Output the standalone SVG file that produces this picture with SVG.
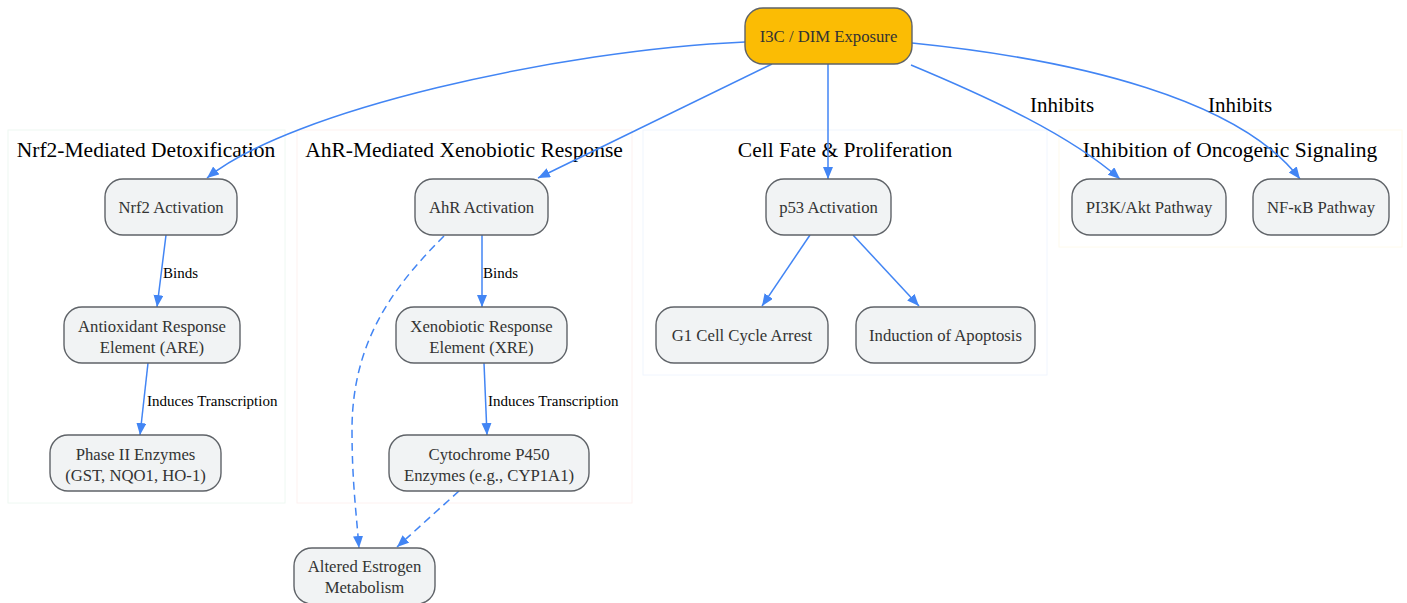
<svg xmlns="http://www.w3.org/2000/svg" width="1407" height="603" viewBox="0 0 1407 603">
<style>
.cl{fill:#ffffff;stroke-width:1}
.ct{font-family:"Liberation Serif","Times New Roman",serif;font-size:21.5px;fill:#000;text-anchor:middle}
.nd{fill:#f1f3f4;stroke:#5f6368;stroke-width:1.4}
.nt{font-family:"Liberation Serif","Times New Roman",serif;font-size:16.7px;fill:#333;text-anchor:middle}
.e{fill:none;stroke:#4285f4;stroke-width:1.5}
.d{stroke-dasharray:8,5}
.el{font-family:"Liberation Serif","Times New Roman",serif;font-size:15px;fill:#000}
.eb{font-family:"Liberation Serif","Times New Roman",serif;font-size:21px;fill:#000;text-anchor:middle}
</style>
<defs>
<marker id="ar" markerUnits="userSpaceOnUse" markerWidth="13" markerHeight="11" refX="12" refY="5" orient="auto">
<path d="M0,0 L12,5 L0,10 z" fill="#4285f4"/>
</marker>
</defs>
<rect width="1407" height="603" fill="#ffffff"/>

<g id="cluster-nrf2">
<rect class="cl" x="8" y="130" width="277" height="373" stroke="#eef8f2"/>
<text class="ct" x="146" y="157">Nrf2-Mediated Detoxification</text>
</g>
<g id="cluster-ahr">
<rect class="cl" x="297" y="130" width="335" height="373" stroke="#fdf1f0"/>
<text class="ct" x="464" y="157">AhR-Mediated Xenobiotic Response</text>
</g>
<g id="cluster-fate">
<rect class="cl" x="643" y="130" width="404" height="245" stroke="#f0f5fe"/>
<text class="ct" x="845" y="157">Cell Fate &amp; Proliferation</text>
</g>
<g id="cluster-inhib">
<rect class="cl" x="1059" y="130" width="343" height="117" stroke="#fefaec"/>
<text class="ct" x="1230" y="157">Inhibition of Oncogenic Signaling</text>
</g>

<g id="connectors">
<path class="e" marker-end="url(#ar)" d="M745,42 C560,50 290,110 207,178"/>
<path class="e" marker-end="url(#ar)" d="M772,64 L538,178"/>
<path class="e" marker-end="url(#ar)" d="M828,64 L828,179"/>
<path class="e" marker-end="url(#ar)" d="M911,65 C990,98 1070,135 1120,179"/>
<path class="e" marker-end="url(#ar)" d="M912,43 C1080,60 1240,100 1300,179"/>
<path class="e" marker-end="url(#ar)" d="M166,235 L157,307"/>
<path class="e" marker-end="url(#ar)" d="M148,363 L140,435"/>
<path class="e" marker-end="url(#ar)" d="M482,235 L482,307"/>
<path class="e" marker-end="url(#ar)" d="M484,363 L487,435"/>
<path class="e d" marker-end="url(#ar)" d="M444,236 C395,285 352,340 352,430 C352,480 356,510 359,548"/>
<path class="e d" marker-end="url(#ar)" d="M459,491 L397,547"/>
<path class="e" marker-end="url(#ar)" d="M810,235 L762,306"/>
<path class="e" marker-end="url(#ar)" d="M853,235 L919,306"/>
<text class="el" x="163" y="278">Binds</text>
<text class="el" x="147" y="406">Induces Transcription</text>
<text class="el" x="483" y="278">Binds</text>
<text class="el" x="488" y="406">Induces Transcription</text>
<text class="eb" x="1062" y="112">Inhibits</text>
<text class="eb" x="1240" y="112">Inhibits</text>
</g>

<g id="n-i3c">
<rect x="745" y="8" width="167" height="56" rx="18" fill="#fbbc04" stroke="#5f6368" stroke-width="1.4"/>
<text class="nt" x="828.5" y="42">I3C / DIM Exposure</text>
</g>
<g id="n-nrf2">
<rect class="nd" x="105" y="179" width="132" height="56" rx="18"/>
<text class="nt" x="171" y="213">Nrf2 Activation</text>
</g>
<g id="n-are">
<rect class="nd" x="64" y="307" width="176" height="56" rx="18"/>
<text class="nt" x="152" y="332">Antioxidant Response</text>
<text class="nt" x="152" y="353">Element (ARE)</text>
</g>
<g id="n-phase2">
<rect class="nd" x="50" y="435" width="171" height="56" rx="18"/>
<text class="nt" x="135.5" y="460">Phase II Enzymes</text>
<text class="nt" x="135.5" y="481">(GST, NQO1, HO-1)</text>
</g>
<g id="n-ahr">
<rect class="nd" x="415" y="179" width="133" height="56" rx="18"/>
<text class="nt" x="481.5" y="213">AhR Activation</text>
</g>
<g id="n-xre">
<rect class="nd" x="396" y="307" width="171" height="56" rx="18"/>
<text class="nt" x="481.5" y="332">Xenobiotic Response</text>
<text class="nt" x="481.5" y="353">Element (XRE)</text>
</g>
<g id="n-cyp">
<rect class="nd" x="389" y="435" width="200" height="56" rx="18"/>
<text class="nt" x="489" y="460">Cytochrome P450</text>
<text class="nt" x="489" y="481">Enzymes (e.g., CYP1A1)</text>
</g>
<g id="n-estrogen">
<rect class="nd" x="294" y="548" width="141" height="56" rx="18"/>
<text class="nt" x="364.5" y="572">Altered Estrogen</text>
<text class="nt" x="364.5" y="593">Metabolism</text>
</g>
<g id="n-p53">
<rect class="nd" x="766" y="179" width="125" height="56" rx="18"/>
<text class="nt" x="828.5" y="213">p53 Activation</text>
</g>
<g id="n-g1">
<rect class="nd" x="656" y="307" width="172" height="56" rx="18"/>
<text class="nt" x="742" y="341">G1 Cell Cycle Arrest</text>
</g>
<g id="n-apop">
<rect class="nd" x="856" y="307" width="179" height="56" rx="18"/>
<text class="nt" x="945.5" y="341">Induction of Apoptosis</text>
</g>
<g id="n-pi3k">
<rect class="nd" x="1072" y="179" width="154" height="56" rx="18"/>
<text class="nt" x="1149" y="213">PI3K/Akt Pathway</text>
</g>
<g id="n-nfkb">
<rect class="nd" x="1253" y="179" width="136" height="56" rx="18"/>
<text class="nt" x="1321" y="213">NF-κB Pathway</text>
</g>
</svg>
